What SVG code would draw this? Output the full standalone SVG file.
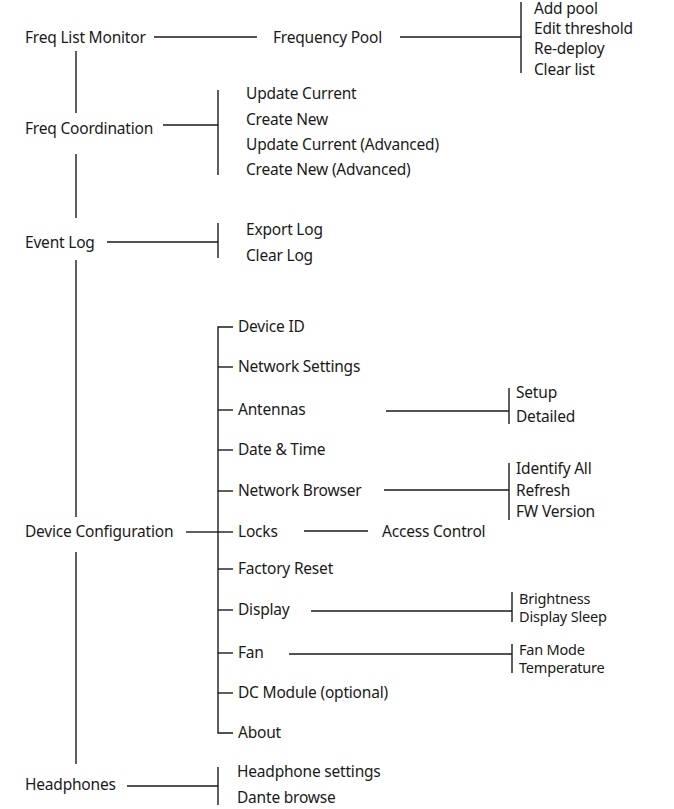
<svg xmlns="http://www.w3.org/2000/svg" width="674" height="809" viewBox="0 0 674 809">
<style>
text{font-family:"Noto Sans","Liberation Sans",sans-serif;font-size:15.5px;fill:#1a1a1a;dominant-baseline:central;letter-spacing:-0.2px}
.t{font-size:14.5px}
#connectors line,#connectors path{stroke:#1a1a1a;stroke-width:1.4;fill:none}
</style>
<rect width="674" height="809" fill="#fff"/>
<g id="connectors">
<line x1="154" y1="37" x2="257" y2="37"/>
<line x1="400" y1="37" x2="521" y2="37"/>
<line x1="521" y1="2" x2="521" y2="73"/>
<line x1="76" y1="51" x2="76" y2="113"/>
<line x1="163" y1="125" x2="218" y2="125"/>
<line x1="218" y1="90" x2="218" y2="175"/>
<line x1="76" y1="154" x2="76" y2="218"/>
<line x1="107" y1="242" x2="218" y2="242"/>
<line x1="218" y1="223" x2="218" y2="258"/>
<line x1="76" y1="260" x2="76" y2="517"/>
<line x1="186" y1="532" x2="218" y2="532"/>
<path d="M233 327H218V733H233"/>
<line x1="218" y1="367" x2="233" y2="367"/>
<line x1="218" y1="410" x2="233" y2="410"/>
<line x1="218" y1="450" x2="233" y2="450"/>
<line x1="218" y1="491" x2="233" y2="491"/>
<line x1="218" y1="532" x2="233" y2="532"/>
<line x1="218" y1="569" x2="233" y2="569"/>
<line x1="218" y1="610" x2="233" y2="610"/>
<line x1="218" y1="653" x2="233" y2="653"/>
<line x1="218" y1="693" x2="233" y2="693"/>
<line x1="386" y1="411" x2="509" y2="411"/>
<line x1="509" y1="388" x2="509" y2="424"/>
<line x1="384" y1="490" x2="509" y2="490"/>
<line x1="509" y1="463" x2="509" y2="520"/>
<line x1="304" y1="531" x2="368" y2="531"/>
<line x1="311" y1="611" x2="512" y2="611"/>
<line x1="512" y1="592" x2="512" y2="622"/>
<line x1="289" y1="654" x2="512" y2="654"/>
<line x1="512" y1="644" x2="512" y2="673"/>
<line x1="76" y1="552" x2="76" y2="764"/>
<line x1="127" y1="786" x2="218" y2="786"/>
<line x1="218" y1="767" x2="218" y2="805"/>
</g>
<g id="freq-list-monitor"><text x="25" y="37">Freq List Monitor</text></g>
<g id="frequency-pool"><text x="273" y="37">Frequency Pool</text></g>
<g id="pool-items"><text x="534" y="8">Add pool</text><text x="534" y="28">Edit threshold</text><text x="534" y="48">Re-deploy</text><text x="534" y="69">Clear list</text></g>
<g id="freq-coordination"><text x="25" y="128">Freq Coordination</text></g>
<g id="coord-items"><text x="246" y="93">Update Current</text><text x="246" y="119">Create New</text><text x="246" y="144">Update Current (Advanced)</text><text x="246" y="169">Create New (Advanced)</text></g>
<g id="event-log"><text x="25" y="242">Event Log</text></g>
<g id="log-items"><text x="246" y="229">Export Log</text><text x="246" y="255">Clear Log</text></g>
<g id="device-configuration"><text x="25" y="531">Device Configuration</text></g>
<g id="device-items">
<text x="238" y="326">Device ID</text><text x="238" y="366">Network Settings</text><text x="238" y="409">Antennas</text><text x="238" y="449">Date &amp; Time</text><text x="238" y="490">Network Browser</text><text x="238" y="531">Locks</text><text x="238" y="568">Factory Reset</text><text x="238" y="609">Display</text><text x="238" y="652">Fan</text><text x="238" y="692">DC Module (optional)</text><text x="238" y="732">About</text>
</g>
<g id="antenna-items"><text x="516" y="392">Setup</text><text x="516" y="416">Detailed</text></g>
<g id="browser-items"><text x="516" y="468">Identify All</text><text x="516" y="490">Refresh</text><text x="516" y="511">FW Version</text></g>
<g id="access-control"><text x="382" y="531">Access Control</text></g>
<g id="display-items"><text class="t" x="519" y="598">Brightness</text><text class="t" x="519" y="616">Display Sleep</text></g>
<g id="fan-items"><text class="t" x="519" y="649">Fan Mode</text><text class="t" x="519" y="667">Temperature</text></g>
<g id="headphones"><text x="25" y="784">Headphones</text></g>
<g id="headphone-items"><text x="237" y="771">Headphone settings</text><text x="237" y="797">Dante browse</text></g>
</svg>
